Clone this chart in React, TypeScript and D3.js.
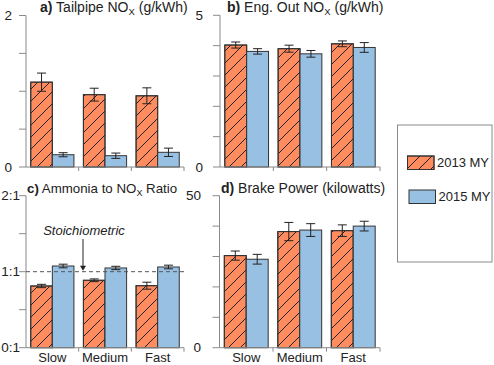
import * as d3 from "d3";

const categories = ["Slow", "Medium", "Fast"];
const series = ["2013 MY", "2015 MY"];

// panel a: tailpipe NOx (g/kWh)
const tailpipe2013 = [1.12, 0.955, 0.94];
const tailpipe2013Err = [0.12, 0.085, 0.105];
const tailpipe2015 = [0.162, 0.149, 0.194];
const tailpipe2015Err = [0.027, 0.035, 0.055];

// panel b: engine out NOx (g/kWh)
const engOut2013 = [4.02, 3.9, 4.06];
const engOut2013Err = [0.1, 0.115, 0.095];
const engOut2015 = [3.81, 3.73, 3.94];
const engOut2015Err = [0.09, 0.11, 0.16];

// panel c: ammonia to NOx ratio
const ratio2013 = [0.812, 0.887, 0.816];
const ratio2013Err = [0.022, 0.018, 0.046];
const ratio2015 = [1.075, 1.049, 1.062];
const ratio2015Err = [0.024, 0.022, 0.024];

// panel d: brake power (kW)
const power2013 = [30.3, 38.2, 38.5];
const power2013Err = [1.5, 3.0, 1.9];
const power2015 = [29.1, 38.7, 40.0];
const power2015Err = [1.6, 2.1, 1.6];

const ticksA = [0, 0.5, 1, 1.5, 2];
const ticksB = [0, 1, 2, 3, 4, 5];
const ticksC = [0, 0.5, 1, 1.5, 2];
const ticksD = [0, 10, 20, 30, 40, 50];
const tickLabelsA = ["0", "", "", "", "2"];
const tickLabelsB = ["0", "", "", "", "", "5"];
const tickLabelsC = ["0:1", "", "1:1", "", "2:1"];
const tickLabelsD = ["0", "", "", "", "", "50"];

const ORANGE = "#FF8C5E";
const BLUE = "#98C0E2";
const AXIS = "#8a8a8a";
const FONT = "'Liberation Sans', Arial, sans-serif";

interface PanelProps {
  x0: number;
  x1: number;
  yTop: number;
  yBottom: number;
  max: number;
  ticks: number[];
  tickLabels: string[];
  labelX: number;
  v13: number[];
  e13: number[];
  v15: number[];
  e15: number[];
  showCategories?: boolean;
  children?: React.ReactNode;
}

function Panel(p: PanelProps) {
  const x = d3.scaleBand<string>().domain(categories).range([p.x0, p.x1]).paddingInner(0.18).paddingOuter(0.09);
  const y = d3.scaleLinear().domain([0, p.max]).range([p.yBottom, p.yTop]);
  const half = x.bandwidth() / 2;
  const step = x.step();

  const bars = (vals: number[], errs: number[], offset: number, fill: string, hatch: boolean) =>
    categories.map((c, i) => {
      const bx = (x(c) as number) + offset;
      const cx = bx + half / 2;
      const top = y(vals[i]);
      return (
        <g key={c + offset}>
          <rect x={bx} y={top} width={half} height={y(0) - top} fill={fill} stroke="#333" strokeWidth={1} />
          {hatch && <rect x={bx} y={top} width={half} height={y(0) - top} fill="url(#hatch)" stroke="#333" strokeWidth={1} />}
          <line x1={cx} x2={cx} y1={y(vals[i] + errs[i])} y2={y(vals[i] - errs[i])} stroke="#222" />
          <line x1={cx - 4.5} x2={cx + 4.5} y1={y(vals[i] + errs[i])} y2={y(vals[i] + errs[i])} stroke="#222" />
          <line x1={cx - 4.5} x2={cx + 4.5} y1={y(vals[i] - errs[i])} y2={y(vals[i] - errs[i])} stroke="#222" />
        </g>
      );
    });

  return (
    <g>
      {bars(p.v13, p.e13, 0, ORANGE, true)}
      {bars(p.v15, p.e15, half, BLUE, false)}
      {/* y axis */}
      <line x1={p.x0} x2={p.x0} y1={y(p.max)} y2={y(0)} stroke={AXIS} />
      {p.ticks.map((t, i) => (
        <g key={t}>
          <line x1={p.x0 - 7} x2={p.x0} y1={y(t)} y2={y(t)} stroke={AXIS} />
          {p.tickLabels[i] && (
            <text x={p.labelX} y={y(t)} dy="0.35em" textAnchor="end" fontSize={13.5} fill="#222">
              {p.tickLabels[i]}
            </text>
          )}
        </g>
      ))}
      {/* x axis */}
      <line x1={p.x0} x2={p.x1} y1={y(0)} y2={y(0)} stroke={AXIS} />
      {[1, 2, 3].map((k) => (
        <line key={k} x1={p.x0 + step * k} x2={p.x0 + step * k} y1={y(0)} y2={y(0) + 4} stroke={AXIS} />
      ))}
      {p.showCategories &&
        categories.map((c) => (
          <text key={c} x={(x(c) as number) + half} y={y(0) + 14.5} textAnchor="middle" fontSize={13} fill="#222">
            {c}
          </text>
        ))}
      {p.children}
    </g>
  );
}

function Title({ x, y, size, letter, pre, sub, post }: { x: number; y: number; size: number; letter: string; pre: string; sub?: string; post?: string }) {
  return (
    <text x={x} y={y} fontSize={size} fill="#222">
      <tspan fontWeight="bold">{letter}</tspan>
      <tspan>{" " + pre}</tspan>
      {sub && (
        <tspan fontSize={size * 0.68} dy={3}>
          {sub}
        </tspan>
      )}
      {post && <tspan dy={sub ? -3 : 0}>{post}</tspan>}
    </text>
  );
}

export default function App() {
  const yC = d3.scaleLinear().domain([0, 2]).range([347.7, 195.7]);
  return (
    <svg width={494} height={365} style={{ position: "absolute", left: 0, top: 0, background: "#fff" }} fontFamily={FONT}>
      <defs>
        <pattern id="hatch" patternUnits="userSpaceOnUse" width={12} height={12}>
          <path d="M0,12 L12,0 M-3,3 L3,-3 M9,15 L15,9" stroke="#222" strokeWidth={1} />
        </pattern>
      </defs>
      <rect width={494} height={365} fill="#fff" />

      <Panel x0={26} x1={184} yTop={15.5} yBottom={167} max={2} ticks={ticksA} tickLabels={tickLabelsA} labelX={12}
        v13={tailpipe2013} e13={tailpipe2013Err} v15={tailpipe2015} e15={tailpipe2015Err} />
      <Panel x0={220} x1={380} yTop={15.3} yBottom={167} max={5} ticks={ticksB} tickLabels={tickLabelsB} labelX={203}
        v13={engOut2013} e13={engOut2013Err} v15={engOut2015} e15={engOut2015Err} />
      <Panel x0={26} x1={184} yTop={195.7} yBottom={347.7} max={2} ticks={ticksC} tickLabels={tickLabelsC} labelX={20}
        v13={ratio2013} e13={ratio2013Err} v15={ratio2015} e15={ratio2015Err} showCategories>
        <line x1={26} x2={184} y1={yC(1)} y2={yC(1)} stroke="#555" strokeDasharray="4,3" />
        <text x={84} y={235} textAnchor="middle" fontStyle="italic" fontSize={13} fill="#222">Stoichiometric</text>
        <line x1={83} x2={83} y1={239} y2={yC(1) - 5} stroke="#222" />
        <path d={`M80,${yC(1) - 6} L86,${yC(1) - 6} L83,${yC(1) - 1} Z`} fill="#222" />
      </Panel>
      <Panel x0={219.5} x1={380} yTop={195.7} yBottom={347.7} max={50} ticks={ticksD} tickLabels={tickLabelsD} labelX={201}
        v13={power2013} e13={power2013Err} v15={power2015} e15={power2015Err} showCategories />

      <Title x={40} y={12} size={14} letter="a)" pre="Tailpipe NO" sub="X" post=" (g/kWh)" />
      <Title x={227} y={12} size={14} letter="b)" pre="Eng. Out NO" sub="X" post=" (g/kWh)" />
      <Title x={27} y={193} size={13.3} letter="c)" pre="Ammonia to NO" sub="X" post=" Ratio" />
      <Title x={221} y={193} size={14} letter="d)" pre="Brake Power (kilowatts)" />

      {/* legend */}
      <rect x={397.5} y={125} width={94.5} height={137} fill="#fff" stroke={AXIS} />
      {series.map((s, i) => {
        const ly = [156, 190][i];
        const lx = [407.5, 409][i];
        return (
          <g key={s}>
            <rect x={lx} y={ly} width={26.5} height={13.5} fill={i === 0 ? ORANGE : BLUE} stroke="#333" />
            {i === 0 && <rect x={lx} y={ly} width={26.5} height={13.5} fill="url(#hatch)" stroke="#333" />}
            <text x={lx + 29.5} y={ly + 6.75} dy="0.35em" fontSize={13} fill="#222">{s}</text>
          </g>
        );
      })}
    </svg>
  );
}
